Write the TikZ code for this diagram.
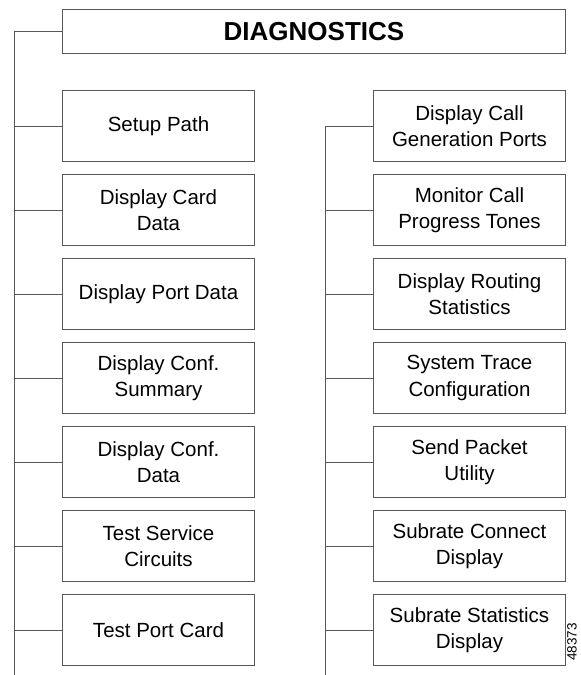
\documentclass[tikz,border=0pt]{standalone}
\usepackage{fontspec}
\setmainfont{Liberation Sans}
\definecolor{linecol}{gray}{0.35}
\begin{document}
\begin{tikzpicture}[x=1pt,y=-1pt,
  menubox/.style={draw=linecol,line width=1pt,minimum width=192pt,minimum height=71pt,
    inner sep=0pt,align=center,anchor=north west,font=\fontsize{20.5}{26.5}\selectfont},
  titlebox/.style={draw=linecol,line width=1pt,minimum width=503pt,minimum height=44pt,
    inner sep=0pt,anchor=north west,font=\fontsize{26}{28}\selectfont\bfseries},
  conn/.style={draw=linecol,line width=1pt}]
\useasboundingbox (0,0) rectangle (581,675);
\node[titlebox] (title) at (62,9) {DIAGNOSTICS};
\coordinate (lsb) at (14,675);
\coordinate (rsb) at (325,675);
% left column
\node[menubox] (l1) at (62,90)  {Setup Path};
\node[menubox] (l2) at (62,174) {Display Card\\Data};
\node[menubox] (l3) at (62,258) {Display Port Data};
\node[menubox] (l4) at (62,342) {Display Conf.\\Summary};
\node[menubox] (l5) at (62,426) {Display Conf.\\Data};
\node[menubox] (l6) at (62,510) {Test Service\\Circuits};
\node[menubox] (l7) at (62,594) {Test Port Card};
% right column
\node[menubox] (r1) at (373,90)  {Display Call\\Generation Ports};
\node[menubox] (r2) at (373,174) {Monitor Call\\Progress Tones};
\node[menubox] (r3) at (373,258) {Display Routing\\Statistics};
\node[menubox] (r4) at (373,342) {System Trace\\Configuration};
\node[menubox] (r5) at (373,426) {Send Packet\\Utility};
\node[menubox] (r6) at (373,510) {Subrate Connect\\Display};
\node[menubox] (r7) at (373,594) {Subrate Statistics\\Display};
% connectors
\draw[conn] (title.west) -| (lsb);
\foreach \n in {l1,l2,l3,l4,l5,l6,l7}{\draw[conn] (\n.west) -- (\n.west -| lsb);}
\draw[conn] (r1.west) -| (rsb);
\foreach \n in {r2,r3,r4,r5,r6,r7}{\draw[conn] (\n.west) -- (\n.west -| rsb);}
\node[rotate=90,inner sep=0pt,font=\fontsize{13.5}{14}\selectfont] (fig) at (572,642) {48373};
\end{tikzpicture}
\end{document}
